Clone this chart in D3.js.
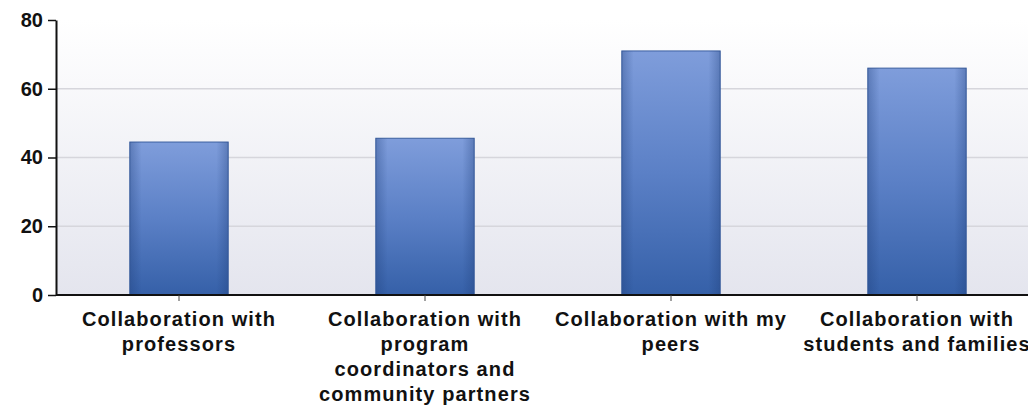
<!DOCTYPE html>
<html>
<head>
<meta charset="utf-8">
<script src="https://cdn.jsdelivr.net/npm/d3@7"></script>
<style>
  body { margin: 0; background: #fff; }
  svg text { font-family: "Liberation Sans", Arial, sans-serif; font-weight: bold; fill: #111; }
</style>
</head>
<body>
<div id="chart"></div>
<script>
const categories = [
    ['Collaboration with', 'professors'],
    ['Collaboration with', 'program', 'coordinators and', 'community partners'],
    ['Collaboration with my', 'peers'],
    ['Collaboration with', 'students and families']
]
const values = [44.5, 45.6, 71, 66]
const yTicks = [0, 20, 40, 60, 80]

const width = 1028, height = 407
const plotLeft = 56, plotTop = 20, plotBottom = 295

const svg = d3.select('#chart').append('svg')
    .attr('width', width)
    .attr('height', height)

const defs = svg.append('defs')
const bg = defs.append('linearGradient').attr('id', 'bg').attr('x1', 0).attr('y1', 0).attr('x2', 0).attr('y2', 1)
bg.append('stop').attr('offset', '0%').attr('stop-color', '#ffffff')
bg.append('stop').attr('offset', '100%').attr('stop-color', '#e4e5ee')

const barGrad = defs.append('linearGradient').attr('id', 'bar').attr('x1', 0).attr('y1', 0).attr('x2', 0).attr('y2', 1)
barGrad.append('stop').attr('offset', '0%').attr('stop-color', '#7f9ddb')
barGrad.append('stop').attr('offset', '50%').attr('stop-color', '#5b80c6')
barGrad.append('stop').attr('offset', '100%').attr('stop-color', '#3560a8')

const barEdge = defs.append('linearGradient').attr('id', 'edge').attr('x1', 0).attr('y1', 0).attr('x2', 1).attr('y2', 0)
barEdge.append('stop').attr('offset', '0%').attr('stop-color', '#1f3f7a').attr('stop-opacity', 0.35)
barEdge.append('stop').attr('offset', '12%').attr('stop-color', '#1f3f7a').attr('stop-opacity', 0)
barEdge.append('stop').attr('offset', '88%').attr('stop-color', '#1f3f7a').attr('stop-opacity', 0)
barEdge.append('stop').attr('offset', '100%').attr('stop-color', '#1f3f7a').attr('stop-opacity', 0.35)

const xScale = d3.scaleBand()
    .domain(d3.range(categories.length))
    .range([plotLeft, 1040])
    .paddingInner(0.6)
    .paddingOuter(0.3)

const yScale = d3.scaleLinear()
    .domain([0, 80])
    .range([plotBottom, plotTop])

// plot background
svg.append('rect')
    .attr('x', plotLeft).attr('y', plotTop)
    .attr('width', width - plotLeft).attr('height', plotBottom - plotTop)
    .attr('fill', 'url(#bg)')

// grid lines
svg.selectAll('.grid')
    .data(yTicks.filter(d => d > 0 && d < 80))
    .enter().append('line')
    .attr('class', 'grid')
    .attr('x1', plotLeft).attr('x2', width)
    .attr('y1', d => yScale(d)).attr('y2', d => yScale(d))
    .attr('stroke', '#d6d6dc')
    .attr('stroke-width', 1.5)

// bars
const bars = svg.selectAll('.bar')
    .data(values)
    .enter().append('g')
    .attr('class', 'bar')

bars.append('rect')
    .attr('x', (d, i) => xScale(i))
    .attr('y', d => yScale(d))
    .attr('width', xScale.bandwidth())
    .attr('height', d => plotBottom - yScale(d))
    .attr('fill', 'url(#bar)')
    .attr('stroke', '#3b5f9f')
    .attr('stroke-width', 1)

bars.append('rect')
    .attr('x', (d, i) => xScale(i))
    .attr('y', d => yScale(d))
    .attr('width', xScale.bandwidth())
    .attr('height', d => plotBottom - yScale(d))
    .attr('fill', 'url(#edge)')

// y axis
const yAxis = svg.append('g')
    .attr('transform', `translate(${plotLeft},0)`)
    .call(d3.axisLeft(yScale).tickValues(yTicks).tickSize(8).tickPadding(5).tickSizeOuter(0))
yAxis.select('.domain').attr('stroke', '#111').attr('stroke-width', 2)
yAxis.selectAll('.tick line').attr('stroke', '#111').attr('stroke-width', 1.5)
yAxis.selectAll('.tick text').style('font-size', '20px').attr('fill', '#111')

// x axis
const xAxis = svg.append('g')
    .attr('transform', `translate(0,${plotBottom})`)
    .call(d3.axisBottom(xScale).tickSize(6).tickSizeOuter(0).tickFormat(''))
xAxis.select('.domain').attr('stroke', '#111').attr('stroke-width', 2)
    .attr('d', `M${plotLeft},0H${width}`)
xAxis.selectAll('.tick line').attr('stroke', '#444').attr('stroke-width', 1)

// category labels
const labels = svg.selectAll('.xlabel')
    .data(categories)
    .enter().append('text')
    .attr('class', 'xlabel')
    .attr('text-anchor', 'middle')
    .style('font-size', '20px')
    .style('letter-spacing', '1.1px')

labels.selectAll('tspan')
    .data((d, i) => d.map(line => ({ line, i })))
    .enter().append('tspan')
    .attr('x', d => xScale(d.i) + xScale.bandwidth() / 2)
    .attr('y', (d, j) => 326 + j * 25)
    .text(d => d.line)
</script>
</body>
</html>
